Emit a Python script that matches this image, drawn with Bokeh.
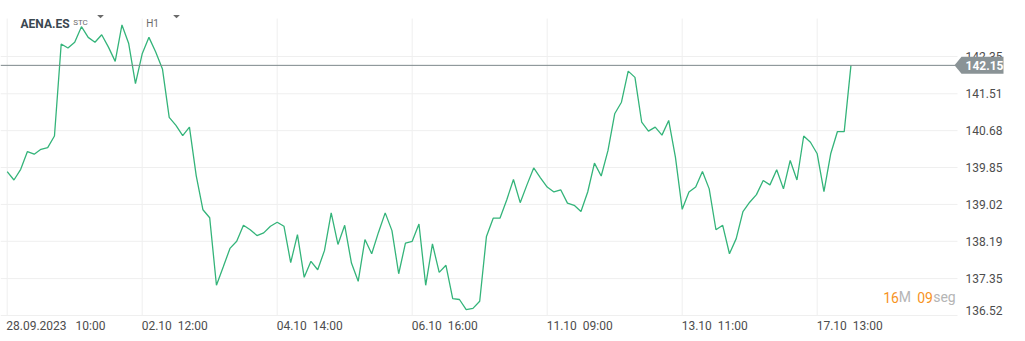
from bokeh.plotting import figure
from bokeh.models import FixedTicker, ColumnDataSource
from bokeh.core.properties import value
from bokeh.embed import file_html
from bokeh.resources import INLINE

# ---- data -------------------------------------------------------------
symbol = "AENA.ES"
last_price = 142.15
prices = [
    139.76, 139.57, 139.81, 140.21, 140.15, 140.26, 140.30, 140.56, 142.63, 142.54,
    142.67, 143.02, 142.78, 142.67, 142.84, 142.56, 142.24, 143.06, 142.64, 141.74,
    142.41, 142.78, 142.45, 142.07, 140.98, 140.80, 140.57, 140.76, 139.67, 138.90,
    138.72, 137.20, 137.61, 138.03, 138.19, 138.55, 138.45, 138.32, 138.38, 138.53,
    138.62, 138.53, 137.71, 138.34, 137.38, 137.74, 137.55, 137.98, 138.83, 138.12,
    138.55, 137.70, 137.29, 138.23, 137.91, 138.39, 138.83, 138.43, 137.46, 138.15,
    138.19, 138.58, 137.20, 138.13, 137.49, 137.65, 136.90, 136.88, 136.65, 136.68,
    136.84, 138.30, 138.71, 138.71, 139.12, 139.58, 139.06, 139.46, 139.84, 139.62,
    139.41, 139.30, 139.35, 139.05, 139.00, 138.86, 139.30, 139.95, 139.66, 140.23,
    141.06, 141.32, 142.02, 141.88, 140.87, 140.67, 140.76, 140.58, 140.91, 140.08,
    138.91, 139.30, 139.41, 139.76, 139.37, 138.45, 138.55, 137.91, 138.25, 138.86,
    139.07, 139.24, 139.56, 139.46, 139.80, 139.37, 140.01, 139.57, 140.56, 140.42,
    140.16, 139.31, 140.16, 140.66, 140.66, 142.15,
]
bar_index = list(range(len(prices)))
x_grid_positions = [0, 20, 40, 60, 80, 100, 120]
x_tick_labels = ["28.09.2023\u00a0\u00a0\u00a010:00", "02.10\u00a0\u00a012:00", "04.10\u00a0\u00a014:00",
                 "06.10\u00a0\u00a016:00", "11.10\u00a0\u00a009:00", "13.10\u00a0\u00a011:00",
                 "17.10\u00a0\u00a013:00"]
y_ticks = [136.52, 137.35, 138.19, 139.02, 139.85, 140.68, 141.51, 142.35]
countdown_parts = ["16", "M", "09", "seg"]

# ---- geometry (pixel layout of the chart area) ------------------------
W, H = 1025, 341
GRID_RIGHT = 957          # pixel where grid lines stop
GRID_TOP = 18             # pixel where vertical grid lines start
BASE_PY = 315             # pixel row of the lowest tick (136.52)
FRAME_BOTTOM = 316
px_per_bar = 6.75
x0_px = 6.7
px_per_unit = 44.43
y_base = y_ticks[0]


def px_x(px):
    return (px - x0_px) / px_per_bar


def px_y(py):
    return y_base + (BASE_PY - py) / px_per_unit


p = figure(width=W, height=H, output_backend="svg", toolbar_location=None,
           x_range=(px_x(0), px_x(W)), y_range=(px_y(FRAME_BOTTOM), px_y(0)),
           min_border_left=0, min_border_right=0, min_border_top=0,
           min_border_bottom=H - FRAME_BOTTOM)
p.outline_line_color = None
p.background_fill_color = "white"
p.border_fill_color = "white"
p.xgrid.visible = False
p.ygrid.visible = False
p.yaxis.visible = False

grid_color = "#efefef"
x_left, x_right = px_x(0), px_x(GRID_RIGHT)
# horizontal grid lines (stop before the price scale)
p.segment(x0=[x_left] * len(y_ticks), y0=y_ticks, x1=[x_right] * len(y_ticks), y1=y_ticks,
          line_color=grid_color, line_width=1)
# vertical grid lines
p.segment(x0=x_grid_positions, y0=[y_base] * len(x_grid_positions),
          x1=x_grid_positions, y1=[px_y(GRID_TOP)] * len(x_grid_positions),
          line_color=grid_color, line_width=1)

# price scale labels
label_y = [t if t > y_base else t + 5 / px_per_unit for t in y_ticks]
p.text(x=[px_x(965)] * len(y_ticks), y=label_y, text=[f"{t:.2f}" for t in y_ticks],
       text_font=value("Roboto"), text_font_size="12px", text_color="#4d4d4d",
       text_align="left", text_baseline="middle")

# time axis: labels start at their grid line -> tick at the label centre
label_px_widths = [97.3, 65, 65, 65, 65, 65, 65]
x_label_ticks = [g + w / 2 / px_per_bar for g, w in zip(x_grid_positions, label_px_widths)]
p.xaxis.ticker = FixedTicker(ticks=x_label_ticks)
p.xaxis.major_label_overrides = {t: l for t, l in zip(x_label_ticks, x_tick_labels)}
p.xaxis.axis_line_color = None
p.xaxis.major_tick_line_color = None
p.xaxis.major_tick_out = 0
p.xaxis.major_tick_in = 0
p.xaxis.minor_tick_line_color = None
p.xaxis.major_label_standoff = 2
p.xaxis.major_label_text_font = "Roboto"
p.xaxis.major_label_text_font_size = "12px"
p.xaxis.major_label_text_color = "#4d4d4d"

# price line
src = ColumnDataSource(dict(x=bar_index, y=prices))
p.line("x", "y", source=src, line_color="#34b47a", line_width=1.3)

# last price line + tag
tag_grey = "#8a9396"
p.segment(x0=[x_left], y0=[last_price], x1=[px_x(955)], y1=[last_price],
          line_color="#7d878b", line_width=1)
half_h = 8.5 / px_per_unit
p.patch(x=[px_x(954), px_x(961), px_x(1003), px_x(1003), px_x(961)],
        y=[last_price, last_price + half_h, last_price + half_h,
           last_price - half_h, last_price - half_h],
        fill_color=tag_grey, line_color=None)
p.text(x=[px_x(965)], y=[last_price], text=[f"{last_price:.2f}"],
       text_font=value("Roboto"), text_font_size="12px", text_font_style="bold",
       text_color="white", text_align="left", text_baseline="middle")

# header
p.text(x=[px_x(20)], y=[px_y(23.3)], text=[symbol], text_font=value("Roboto"),
       text_font_size="12px", text_font_style="bold", text_color="#3a4750",
       text_baseline="alphabetic")
p.text(x=[px_x(72.7)], y=[px_y(21.7)], text=["STC"], text_font=value("Roboto"),
       text_font_size="8px", text_color="#6b6b6b", text_baseline="alphabetic")
p.text(x=[px_x(145.7)], y=[px_y(22.7)], text=["H1"], text_font=value("Roboto"),
       text_font_size="10px", text_color="#6b6b6b", text_baseline="alphabetic")
for cx in (100, 176):
    p.patch(x=[px_x(cx - 3.4), px_x(cx + 3.4), px_x(cx)],
            y=[px_y(14.6), px_y(14.6), px_y(17.8)], fill_color="#6b6b6b", line_color=None)

# countdown
cd_x = [882.7, 898.3, 916.7, 932.7]
cd_col = ["#f7931e", "#b5b5b5", "#f7931e", "#b5b5b5"]
p.text(x=[px_x(v) for v in cd_x], y=[px_y(296.5)] * 4, text=countdown_parts,
       text_color=cd_col, text_font=value("Roboto"), text_font_size="14px",
       text_align="left", text_baseline="middle")

open("out.html", "w").write(file_html(p, INLINE))
